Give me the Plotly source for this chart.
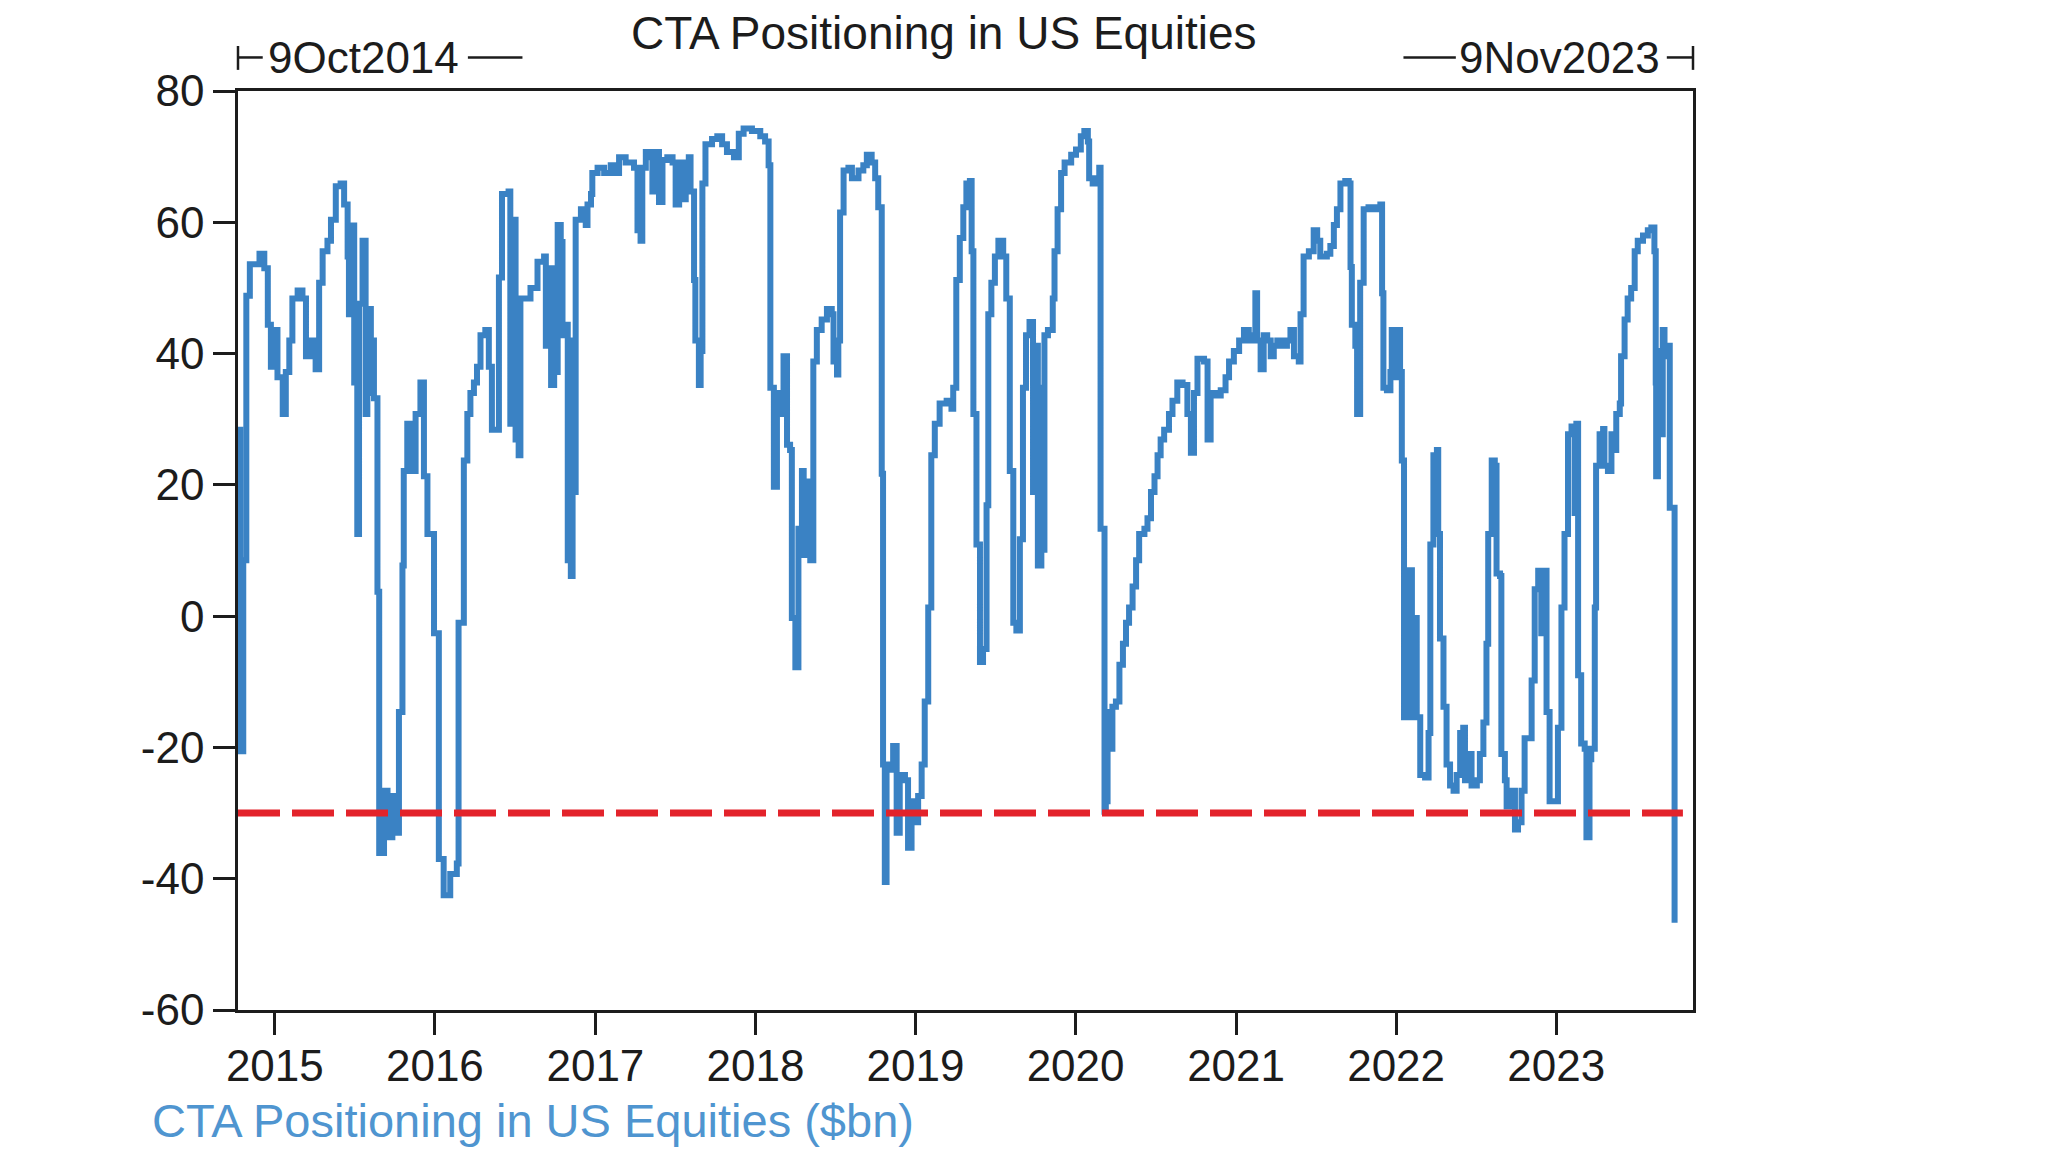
import plotly.graph_objects as go

# ---------------- data ----------------
d2014 = ["2014-10-09", "2014-10-14", "2014-10-21", "2014-10-28", "2014-11-05", "2014-11-27",
         "2014-12-08", "2014-12-16", "2014-12-23", "2014-12-31"]
v2014 = [28.4, -20.6, 8.5, 48.8, 53.6, 55.2, 53.0, 44.4, 38.0, 43.6]

d2015 = ["2015-01-07", "2015-01-19", "2015-01-26", "2015-02-03", "2015-02-10", "2015-02-22",
         "2015-03-05", "2015-03-13", "2015-03-24", "2015-04-04", "2015-04-12", "2015-04-20",
         "2015-05-01", "2015-05-09", "2015-05-20", "2015-05-31", "2015-06-08", "2015-06-16",
         "2015-06-19", "2015-06-27", "2015-07-01", "2015-07-08", "2015-07-12", "2015-07-20",
         "2015-07-27", "2015-07-31", "2015-08-08", "2015-08-11", "2015-08-15", "2015-08-23",
         "2015-08-27", "2015-09-07", "2015-09-15", "2015-09-26", "2015-10-07", "2015-10-11",
         "2015-10-19", "2015-10-22", "2015-10-30", "2015-11-10", "2015-11-18", "2015-11-29",
         "2015-12-07", "2015-12-15", "2015-12-30"]
v2015 = [36.4, 30.8, 37.2, 42.0, 48.4, 49.6,
         48.4, 39.6, 42.0, 37.6, 50.8, 55.6,
         57.2, 60.4, 65.5, 65.9, 62.7, 54.8,
         46.0, 59.5, 35.6, 12.5, 47.6, 57.2,
         30.8, 46.8, 34.0, 42.0, 33.2, 3.7,
         -36.1, -26.6, -33.7, -27.4, -33.0, -14.6,
         7.7, 22.1, 29.3, 22.1, 30.8, 35.6,
         21.3, 12.5, -2.6]

d2016 = ["2016-01-10", "2016-01-21", "2016-02-05", "2016-02-20", "2016-02-24", "2016-03-07",
         "2016-03-15", "2016-03-22", "2016-03-30", "2016-04-06", "2016-04-14", "2016-04-25",
         "2016-05-03", "2016-05-10", "2016-05-26", "2016-06-02", "2016-06-17", "2016-06-21",
         "2016-06-29", "2016-07-03", "2016-07-10", "2016-07-14", "2016-08-06", "2016-08-22",
         "2016-09-06", "2016-09-10", "2016-09-18", "2016-09-22", "2016-09-29", "2016-10-03",
         "2016-10-07", "2016-10-14", "2016-10-18", "2016-10-22", "2016-10-30", "2016-11-06",
         "2016-11-10", "2016-11-14", "2016-11-17", "2016-11-29", "2016-12-10", "2016-12-14",
         "2016-12-22", "2016-12-25"]
v2016 = [-37.0, -42.5, -39.3, -37.7, -1.0, 23.7,
         30.8, 34.0, 35.6, 38.0, 42.8, 43.6,
         38.0, 28.4, 51.6, 64.3, 64.7, 29.3,
         60.4, 26.9, 24.5, 48.4, 50.0, 54.0,
         54.8, 41.2, 53.0, 35.2, 53.0, 37.2,
         59.6, 57.0, 42.8, 44.4, 8.5, 6.1,
         42.0, 18.9, 60.4, 62.0, 59.6, 62.7,
         64.3, 67.5]

d2017 = ["2017-01-06", "2017-01-21", "2017-02-05", "2017-02-16", "2017-02-24", "2017-03-11",
         "2017-03-30", "2017-04-07", "2017-04-14", "2017-04-18", "2017-04-26", "2017-05-07",
         "2017-05-11", "2017-05-18", "2017-05-26", "2017-06-03", "2017-06-14", "2017-06-26",
         "2017-07-03", "2017-07-11", "2017-07-19", "2017-07-26", "2017-08-02", "2017-08-06",
         "2017-08-14", "2017-08-17", "2017-08-25", "2017-08-29", "2017-09-02", "2017-09-09",
         "2017-09-24", "2017-10-06", "2017-10-17", "2017-10-28", "2017-11-13", "2017-11-24",
         "2017-12-05", "2017-12-24"]
v2017 = [68.3, 67.5, 68.7, 67.5, 69.9, 69.1,
         68.3, 58.8, 57.2, 68.3, 70.7, 69.9,
         64.7, 70.7, 63.1, 69.5, 69.9, 69.1,
         62.7, 69.1, 63.5, 69.1, 69.9, 64.7,
         51.2, 42.0, 35.2, 40.4, 65.9, 71.9,
         72.7, 73.1, 71.9, 70.7, 69.9, 73.5,
         74.3, 73.9]

d2018 = ["2018-01-12", "2018-01-23", "2018-01-31", "2018-02-04", "2018-02-12", "2018-02-19",
         "2018-02-27", "2018-03-06", "2018-03-14", "2018-03-21", "2018-03-25", "2018-04-02",
         "2018-04-09", "2018-04-17", "2018-04-21", "2018-04-28", "2018-05-06", "2018-05-13",
         "2018-05-21", "2018-06-01", "2018-06-13", "2018-06-24", "2018-06-28", "2018-07-06",
         "2018-07-09", "2018-07-13", "2018-07-21", "2018-08-01", "2018-08-09", "2018-08-24",
         "2018-09-04", "2018-09-12", "2018-09-23", "2018-10-01", "2018-10-08", "2018-10-16",
         "2018-10-19", "2018-10-23", "2018-10-27", "2018-11-04", "2018-11-11", "2018-11-19",
         "2018-11-26", "2018-12-08", "2018-12-15", "2018-12-23"]
v2018 = [73.1, 72.3, 68.7, 34.8, 19.7, 34.0,
         30.8, 39.6, 26.1, 25.3, -0.3, -7.8,
         13.3, 22.1, 9.3, 20.5, 8.5, 38.8,
         43.6, 45.2, 46.8, 46.0, 38.8, 36.8,
         42.0, 61.5, 67.9, 68.3, 66.7, 67.9,
         68.7, 70.3, 69.1, 66.7, 62.3, 21.7,
         -22.6, -40.5, -22.6, -23.4, -19.8, -33.0,
         -24.2, -25.0, -35.3, -28.2]

d2019 = ["2019-01-03", "2019-01-07", "2019-01-15", "2019-01-22", "2019-01-30", "2019-02-06",
         "2019-02-14", "2019-02-25", "2019-03-13", "2019-03-24", "2019-03-28", "2019-04-04",
         "2019-04-12", "2019-04-20", "2019-04-27", "2019-05-05", "2019-05-09", "2019-05-13",
         "2019-05-20", "2019-05-28", "2019-06-04", "2019-06-12", "2019-06-16", "2019-06-23",
         "2019-07-01", "2019-07-09", "2019-07-20", "2019-07-27", "2019-08-04", "2019-08-12",
         "2019-08-19", "2019-08-27", "2019-09-03", "2019-09-10", "2019-09-18", "2019-09-26",
         "2019-09-29", "2019-10-07", "2019-10-15", "2019-10-18", "2019-10-22", "2019-10-30",
         "2019-11-10", "2019-11-14", "2019-11-21", "2019-11-29", "2019-12-07", "2019-12-22"]
v2019 = [-31.4, -27.4, -22.6, -13.0, 1.3, 24.5,
         29.3, 32.4, 32.8, 31.6, 34.8, 51.2,
         57.6, 62.3, 65.9, 66.3, 55.6, 30.8,
         10.9, -7.0, -5.0, 16.9, 46.0, 50.8,
         54.8, 57.2, 54.8, 48.4, 22.1, -1.0,
         -2.2, 11.7, 34.8, 42.8, 44.8, 18.9,
         41.2, 7.7, 34.8, 10.1, 42.8, 43.6,
         48.4, 55.6, 62.0, 67.5, 69.1, 70.3]

d2020 = ["2020-01-02", "2020-01-13", "2020-01-21", "2020-01-29", "2020-02-01", "2020-02-09",
         "2020-02-17", "2020-02-24", "2020-02-27", "2020-03-07", "2020-03-10", "2020-03-14",
         "2020-03-22", "2020-03-25", "2020-04-02", "2020-04-10", "2020-04-18", "2020-04-25",
         "2020-05-02", "2020-05-10", "2020-05-18", "2020-05-25", "2020-06-06", "2020-06-13",
         "2020-06-21", "2020-06-29", "2020-07-06", "2020-07-13", "2020-07-21", "2020-08-01",
         "2020-08-09", "2020-08-20", "2020-09-01", "2020-09-12", "2020-09-20", "2020-09-27",
         "2020-10-05", "2020-10-20", "2020-10-28", "2020-11-04", "2020-11-15", "2020-11-27",
         "2020-12-08", "2020-12-16", "2020-12-27"]
v2020 = [71.1, 73.1, 73.9, 72.3, 66.7, 65.9,
         66.7, 68.3, 13.3, -29.8, -28.2, -14.6,
         -20.2, -13.8, -13.0, -7.4, -4.2, -1.0,
         1.3, 4.5, 8.5, 12.5, 13.3, 14.9,
         18.9, 21.3, 24.5, 26.9, 28.4, 30.8,
         32.8, 35.6, 35.2, 30.8, 24.9, 34.0,
         39.2, 38.8, 26.9, 34.0, 33.6, 34.4,
         36.4, 38.8, 40.4]

d2021 = ["2021-01-08", "2021-01-19", "2021-01-30", "2021-02-07", "2021-02-14", "2021-02-18",
         "2021-02-26", "2021-03-05", "2021-03-13", "2021-03-21", "2021-03-28", "2021-04-05",
         "2021-04-16", "2021-04-27", "2021-05-05", "2021-05-13", "2021-05-24", "2021-05-28",
         "2021-06-04", "2021-06-16", "2021-06-27", "2021-07-05", "2021-07-12", "2021-07-27",
         "2021-08-04", "2021-08-12", "2021-08-19", "2021-08-27", "2021-09-07", "2021-09-15",
         "2021-09-19", "2021-09-22", "2021-09-30", "2021-10-04", "2021-10-11", "2021-10-19",
         "2021-10-30", "2021-11-11", "2021-11-22", "2021-11-26", "2021-11-30", "2021-12-03",
         "2021-12-11", "2021-12-19", "2021-12-22", "2021-12-30"]
v2021 = [42.0, 43.6, 42.0, 42.8, 49.2, 42.0,
         37.6, 42.8, 42.0, 39.6, 41.2, 42.0,
         41.2, 42.0, 43.6, 39.6, 38.8, 46.0,
         54.8, 55.6, 58.8, 57.2, 54.8, 55.2,
         56.4, 59.6, 62.0, 65.9, 66.3, 65.9,
         53.2, 44.4, 41.2, 30.8, 50.8, 62.0,
         62.3, 62.0, 62.3, 62.7, 49.2, 34.8,
         34.4, 37.2, 43.6, 36.4]

d2022 = ["2022-01-03", "2022-01-10", "2022-01-14", "2022-01-19", "2022-01-25", "2022-01-29",
         "2022-02-06", "2022-02-10", "2022-02-17", "2022-02-25", "2022-03-08", "2022-03-16",
         "2022-03-20", "2022-03-27", "2022-04-04", "2022-04-07", "2022-04-11", "2022-04-19",
         "2022-04-26", "2022-05-04", "2022-05-12", "2022-05-19", "2022-05-27", "2022-06-03",
         "2022-06-07", "2022-06-15", "2022-06-22", "2022-07-04", "2022-07-11", "2022-07-19",
         "2022-07-26", "2022-07-30", "2022-08-07", "2022-08-14", "2022-08-18", "2022-08-26",
         "2022-08-29", "2022-09-06", "2022-09-10", "2022-09-21", "2022-09-29", "2022-10-06",
         "2022-10-14", "2022-10-21", "2022-10-29", "2022-11-06", "2022-11-13", "2022-11-21",
         "2022-11-28", "2022-12-06", "2022-12-10", "2022-12-17", "2022-12-29"]
v2022 = [43.6, 37.2, 23.7, -15.4, -14.6, 7.0,
         -15.4, -0.3, -15.4, -24.2, -24.6, -17.8,
         10.9, 24.5, 25.3, 12.5, -3.4, -13.8,
         -22.6, -25.8, -26.6, -24.2, -17.8, -17.0,
         -25.0, -21.0, -25.8, -25.0, -21.0, -16.2,
         -4.2, 12.5, 23.7, 22.9, 6.5, 6.1,
         -21.0, -25.0, -29.0, -26.6, -32.5, -31.4,
         -26.6, -18.6, -18.6, -9.8, 4.1, 6.9,
         -2.6, 6.9, -14.6, -28.2, -28.2]

d2023 = ["2023-01-05", "2023-01-13", "2023-01-20", "2023-01-28", "2023-02-05", "2023-02-12",
         "2023-02-16", "2023-02-20", "2023-02-27", "2023-03-07", "2023-03-11", "2023-03-18",
         "2023-03-22", "2023-03-30", "2023-04-02", "2023-04-10", "2023-04-18", "2023-04-21",
         "2023-04-29", "2023-05-07", "2023-05-14", "2023-05-18", "2023-05-26", "2023-05-29",
         "2023-06-06", "2023-06-13", "2023-06-21", "2023-06-29", "2023-07-06", "2023-07-18",
         "2023-07-29", "2023-08-06", "2023-08-13", "2023-08-16", "2023-08-17", "2023-08-21",
         "2023-08-29", "2023-09-01", "2023-09-05", "2023-09-13", "2023-09-17", "2023-09-28"]
v2023 = [-17.0, 1.3, 12.5, 27.7, 28.9, 15.7,
         29.3, -9.0, -19.4, -20.2, -33.7, -21.8,
         -20.2, 1.3, 22.9, 27.7, 28.5, 22.9,
         22.1, 27.7, 25.3, 30.8, 32.4, 39.6,
         45.2, 48.4, 50.0, 55.6, 57.2, 58.0,
         58.8, 59.2, 55.6, 35.6, 21.3, 40.4,
         27.7, 43.6, 39.6, 41.2, 16.5, -46.7]

year_dates = [d2014, d2015, d2016, d2017, d2018, d2019, d2020, d2021, d2022, d2023]
year_values = [v2014, v2015, v2016, v2017, v2018, v2019, v2020, v2021, v2022, v2023]
for dd, vv in zip(year_dates, year_values):
    assert len(dd) == len(vv), (dd[0], len(dd), len(vv))

cta_dates = [d for dd in year_dates for d in dd]
cta_values = [v for vv in year_values for v in vv]

threshold_dates = ["2014-10-09", "2023-10-17"]
threshold_values = [-30, -30]

x_range = ["2014-10-09", "2023-11-09"]
x_tickvals = ["2015-01-01", "2016-01-01", "2017-01-01", "2018-01-01", "2019-01-01",
              "2020-01-01", "2021-01-01", "2022-01-01", "2023-01-01"]
x_ticktext = ["2015", "2016", "2017", "2018", "2019", "2020", "2021", "2022", "2023"]
y_tickvals = [80, 60, 40, 20, 0, -20, -40, -60]

title_text = "CTA Positioning in US Equities"
series_label = "CTA Positioning in US Equities ($bn)"
start_label = "9Oct2014"
end_label = "9Nov2023"

# ---------------- figure ----------------
FONT = "Liberation Sans, Arial, sans-serif"
INK = "#1c1c1c"
BLUE = "#3a82c4"

fig = go.Figure()
fig.add_trace(go.Scatter(
    x=cta_dates, y=cta_values, mode="lines", line_shape="hv",
    line=dict(color=BLUE, width=6), showlegend=False, hoverinfo="x+y"))
fig.add_trace(go.Scatter(
    x=threshold_dates, y=threshold_values, mode="lines",
    line=dict(color="#e3232b", width=7, dash="42px,12px"),
    showlegend=False, hoverinfo="skip"))

axis_common = dict(
    showgrid=False, zeroline=False, showline=True, linecolor=INK, linewidth=2.5,
    mirror=True, ticks="outside", ticklen=22, tickwidth=2.5, tickcolor=INK,
    tickfont=dict(family=FONT, size=44, color=INK))

fig.update_xaxes(type="date", range=x_range, tickmode="array",
                 tickvals=x_tickvals, ticktext=x_ticktext, ticklabelstandoff=-7,
                 **axis_common)
fig.update_yaxes(range=[-60, 80], tickmode="array", tickvals=y_tickvals,
                 ticktext=[str(v) for v in y_tickvals], **axis_common)

line_style = dict(color=INK, width=2.5)
y_mid = 1.0365
shapes = [
    # left range marker  |-9Oct2014--
    dict(type="line", xref="paper", yref="paper", x0=0, x1=0, y0=1.023, y1=1.049, line=line_style),
    dict(type="line", xref="paper", yref="paper", x0=0, x1=0.017, y0=y_mid, y1=y_mid, line=line_style),
    dict(type="line", xref="paper", yref="paper", x0=0.158, x1=0.1955, y0=y_mid, y1=y_mid, line=line_style),
    # right range marker  --9Nov2023-|
    dict(type="line", xref="paper", yref="paper", x0=0.801, x1=0.837, y0=y_mid, y1=y_mid, line=line_style),
    dict(type="line", xref="paper", yref="paper", x0=0.982, x1=1.0, y0=y_mid, y1=y_mid, line=line_style),
    dict(type="line", xref="paper", yref="paper", x0=1.0, x1=1.0, y0=1.023, y1=1.049, line=line_style),
]

annotations = [
    dict(text=title_text, xref="paper", yref="paper", x=0.485, y=1.063,
         xanchor="center", yanchor="middle", showarrow=False,
         font=dict(family=FONT, size=46, color=INK)),
    dict(text=start_label, xref="paper", yref="paper", x=0.019, y=y_mid,
         xanchor="left", yanchor="middle", showarrow=False,
         font=dict(family=FONT, size=44, color=INK)),
    dict(text=end_label, xref="paper", yref="paper", x=0.979, y=y_mid,
         xanchor="right", yanchor="middle", showarrow=False,
         font=dict(family=FONT, size=44, color=INK)),
    dict(text=series_label, xref="paper", yref="paper", x=-0.0605, y=-0.1203,
         xanchor="left", yanchor="middle", showarrow=False,
         font=dict(family=FONT, size=47, color="#4f95d0")),
]

fig.update_layout(
    width=2048, height=1152,
    margin=dict(l=238, r=355, t=91, b=142, pad=0),
    paper_bgcolor="white", plot_bgcolor="white",
    shapes=shapes, annotations=annotations,
    font=dict(family=FONT, color=INK),
)

fig.write_html("out.html")
